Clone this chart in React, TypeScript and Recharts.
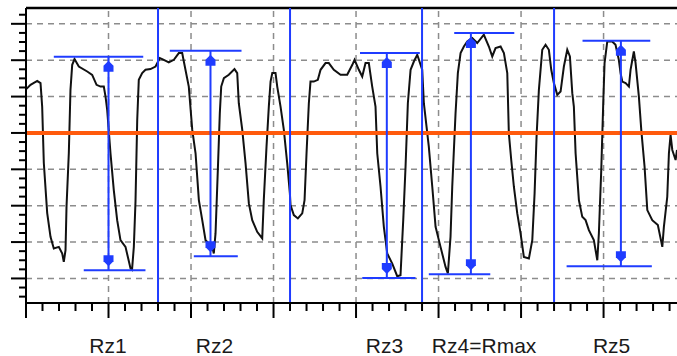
import { ComposedChart, Line, XAxis, YAxis, ReferenceLine, ReferenceDot } from "recharts";

// profile trace (x in grid units, y in grid units around the mean line)
const profX = [
  0.006, 0.055, 0.136, 0.176, 0.196, 0.216, 0.257, 0.297, 0.337, 0.398, 0.439, 0.458, 0.479, 0.491, 0.519, 0.539,
  0.56, 0.588, 0.64, 0.742, 0.802, 0.855, 0.903, 0.943, 0.964, 0.984, 1.024, 1.064, 1.105, 1.145, 1.206, 1.267,
  1.285, 1.307, 1.327, 1.348, 1.367, 1.408, 1.448, 1.509, 1.57, 1.622, 1.67, 1.731, 1.792, 1.852, 1.893, 1.913,
  1.973, 2.015, 2.055, 2.095, 2.136, 2.176, 2.257, 2.276, 2.297, 2.325, 2.349, 2.366, 2.398, 2.458, 2.527, 2.56,
  2.579, 2.621, 2.661, 2.701, 2.742, 2.802, 2.863, 2.882, 2.915, 2.943, 2.964, 2.985, 3.024, 3.045, 3.085, 3.125,
  3.166, 3.198, 3.206, 3.246, 3.295, 3.348, 3.376, 3.4, 3.428, 3.448, 3.488, 3.537, 3.57, 3.63, 3.67, 3.731,
  3.812, 3.893, 3.955, 3.982, 4.034, 4.075, 4.115, 4.155, 4.196, 4.236, 4.257, 4.297, 4.337, 4.378, 4.439, 4.499,
  4.539, 4.572, 4.6, 4.628, 4.661, 4.701, 4.742, 4.802, 4.822, 4.882, 4.924, 4.964, 5.024, 5.085, 5.113, 5.145,
  5.166, 5.206, 5.234, 5.267, 5.307, 5.348, 5.408, 5.469, 5.549, 5.61, 5.651, 5.691, 5.752, 5.792, 5.833, 5.852,
  5.881, 5.913, 5.954, 5.994, 6.034, 6.095, 6.136, 6.164, 6.188, 6.216, 6.257, 6.297, 6.337, 6.366, 6.398, 6.439,
  6.479, 6.519, 6.56, 6.592, 6.621, 6.64, 6.661, 6.701, 6.742, 6.782, 6.822, 6.882, 6.924, 6.943, 6.972, 6.996,
  7.012, 7.045, 7.105, 7.145, 7.185, 7.206, 7.227, 7.267, 7.307, 7.327, 7.367, 7.388, 7.428, 7.457, 7.497, 7.53,
  7.59, 7.658, 7.712, 7.731, 7.772, 7.792, 7.812, 7.833, 7.873, 7.89,
];
const profY = [
  1.212, 1.322, 1.433, 1.369, 0.725, -0.826, -2.204, -2.857, -3.176, -3.132, -3.314, -3.545, -3.223, -2.03, -0.551, 1.185,
  1.873, 2.03, 1.826, 1.689, 1.598, 1.322, 1.275, 1.275, 1.0, 0.634, -0.559, -1.57, -2.397, -2.948, -3.132, -3.727,
  -3.76, -3.132, -1.893, 0.358, 1.46, 1.645, 1.736, 1.755, 1.826, 2.058, 2.011, 1.937, 2.011, 2.196, 2.196, 1.964,
  1.275, 0.083, -0.559, -1.846, -2.397, -2.948, -3.132, -3.314, -2.763, -1.019, 0.543, 1.275, 1.507, 1.598, 1.755, 1.645,
  0.818, 0.083, -0.835, -1.937, -2.397, -2.719, -2.901, -1.846, -0.377, 0.725, 1.413, 1.645, 1.645, 1.275, 0.725, 0.083,
  -0.835, -1.661, -1.983, -2.259, -2.35, -2.212, -1.846, -0.559, 0.818, 1.413, 1.413, 1.46, 1.736, 1.92, 1.92, 1.736,
  1.598, 1.598, 1.873, 2.011, 1.736, 1.551, 1.92, 1.92, 1.275, 0.725, -0.559, -1.479, -2.581, -3.314, -3.59, -3.939,
  -3.912, -2.397, -0.928, 0.818, 1.736, 1.964, 2.149, 1.736, 0.818, -0.377, -1.479, -2.581, -3.132, -3.683, -3.865, -2.857,
  -1.479, 0.543, 1.645, 2.196, 2.377, 2.515, 2.609, 2.471, 2.7, 2.377, 2.102, 2.333, 2.377, 2.196, 1.645, -0.008,
  -0.744, -1.479, -2.212, -2.763, -3.408, -3.452, -2.948, -1.661, -0.102, 1.185, 2.287, 2.424, 2.287, 1.736, 1.369, 1.047,
  1.138, 1.826, 2.287, 2.102, 1.094, 0.725, -0.559, -1.846, -2.306, -2.397, -2.672, -2.948, -3.499, -2.763, -1.019, 0.818,
  1.92, 2.515, 2.515, 2.424, 2.011, 1.645, 1.413, 1.369, 1.275, 1.736, 2.24, 1.92, 1.0, 0.083, -0.928, -2.121,
  -2.397, -2.534, -3.132, -2.581, -1.755, -0.559, -0.055, -0.468, -0.744, -0.468,
];

// Rz peak-to-valley markers
const rzNames = ["Rz1", "Rz2", "Rz3", "Rz4=Rmax", "Rz5"];
const rzLabelX = [0.994, 2.285, 4.345, 5.552, 7.097];
const rzX = [1.0, 2.236, 4.373, 5.392, 7.21];
const rzTop = [2.094, 2.259, 2.196, 2.747, 2.534];
const rzBottom = [-3.774, -3.388, -3.986, -3.884, -3.664];
const topCapFrom = [0.337, 1.743, 4.048, 5.19, 6.745];
const topCapTo = [1.421, 2.612, 4.773, 5.918, 7.566];
const bottomCapFrom = [0.7, 2.034, 4.075, 4.882, 6.552];
const bottomCapTo = [1.448, 2.567, 4.721, 5.627, 7.585];

const samplingEdges = [1.6, 3.2, 4.8, 6.4];
const xGrid = [1, 2, 3, 4, 5, 6, 7];
const yGrid = [-4, -3, -2, -1, 1, 2, 3];

const X_MAX = 7.89;
const Y_MIN = -4.675;
const Y_MAX = 3.435;

const xTicks = Array.from({ length: 40 }, (_, i) => +(i * 0.2).toFixed(1));
const yTicks = Array.from({ length: 32 }, (_, i) => -4.5 + i * 0.25);

const BLUE = "#1f3cff";
const ORANGE = "#ff5a0d";
const GRID = "#8c8c8c";

const data = profX.map((x, i) => ({ x, y: profY[i] }));

const isMajor = (v: number) => Math.abs(v - Math.round(v)) < 1e-6;

function YTick(props: any) {
  const { x, y, payload } = props;
  const len = isMajor(payload.value) ? 15 : 7;
  return <line x1={x} x2={x - len} y1={y} y2={y} stroke="#000" strokeWidth={2} />;
}

function XTick(props: any) {
  const { x, y, payload } = props;
  const len = isMajor(payload.value) ? 15 : 8;
  return <line x1={x} x2={x} y1={y} y2={y + len} stroke="#000" strokeWidth={2} />;
}

function LabelTick(props: any) {
  const { x, y, payload } = props;
  const idx = rzLabelX.indexOf(payload.value);
  return (
    <text x={x} y={y + 30} textAnchor="middle" fontSize={21} fill="#1a1a1a" fontFamily="'Liberation Sans', Arial, sans-serif">
      {rzNames[idx]}
    </text>
  );
}

function ArrowHead({ cx, cy, up }: { cx: number; cy: number; up: boolean }) {
  const s = up ? 1 : -1;
  const d = `M${cx},${cy + s * 4} L${cx + 5},${cy + s * 9} L${cx + 5},${cy + s * 15} L${cx - 5},${cy + s * 15} L${cx - 5},${cy + s * 9} Z`;
  return <path d={d} fill={BLUE} />;
}

export default function App() {
  return (
    <div style={{ position: "absolute", left: 0, top: 0, background: "#fff" }}>
      <ComposedChart width={677} height={356} data={data} margin={{ top: 8, right: 0, bottom: 0, left: 0 }}>
        <XAxis
          dataKey="x"
          type="number"
          domain={[0, X_MAX]}
          ticks={xTicks}
          interval={0}
          tick={<XTick />}
          tickLine={false}
          tickSize={0}
          tickMargin={0}
          axisLine={{ stroke: "#000", strokeWidth: 2 }}
          height={20}
          allowDataOverflow
        />
        <XAxis
          xAxisId="lab"
          dataKey="x"
          type="number"
          domain={[0, X_MAX]}
          ticks={rzLabelX}
          interval={0}
          tick={<LabelTick />}
          tickLine={false}
          tickSize={0}
          tickMargin={0}
          axisLine={false}
          height={33}
          allowDataOverflow
        />
        <YAxis
          type="number"
          domain={[Y_MIN, Y_MAX]}
          ticks={yTicks}
          interval={0}
          tick={<YTick />}
          tickLine={false}
          tickSize={0}
          tickMargin={0}
          axisLine={{ stroke: "#000", strokeWidth: 2 }}
          width={26}
          allowDataOverflow
        />
        {yGrid.map((v) => (
          <ReferenceLine key={`gy${v}`} y={v} stroke={GRID} strokeWidth={1.5} strokeDasharray="6 5" />
        ))}
        {xGrid.map((v) => (
          <ReferenceLine key={`gx${v}`} x={v} stroke={GRID} strokeWidth={1.5} strokeDasharray="6 5" />
        ))}
        <ReferenceLine y={Y_MAX} stroke="#000" strokeWidth={2.5} />
        <Line dataKey="y" type="linear" stroke="#111" strokeWidth={2} dot={false} isAnimationActive={false} />
        <ReferenceLine y={0} stroke={ORANGE} strokeWidth={4} />
        {samplingEdges.map((v) => (
          <ReferenceLine key={`se${v}`} x={v} stroke={BLUE} strokeWidth={2} />
        ))}
        {rzX.map((x, i) => (
          <ReferenceLine
            key={`ar${i}`}
            segment={[
              { x, y: rzTop[i] },
              { x, y: rzBottom[i] },
            ]}
            stroke={BLUE}
            strokeWidth={2}
          />
        ))}
        {rzX.map((_, i) => (
          <ReferenceLine
            key={`tc${i}`}
            segment={[
              { x: topCapFrom[i], y: rzTop[i] },
              { x: topCapTo[i], y: rzTop[i] },
            ]}
            stroke={BLUE}
            strokeWidth={2}
          />
        ))}
        {rzX.map((_, i) => (
          <ReferenceLine
            key={`bc${i}`}
            segment={[
              { x: bottomCapFrom[i], y: rzBottom[i] },
              { x: bottomCapTo[i], y: rzBottom[i] },
            ]}
            stroke={BLUE}
            strokeWidth={2}
          />
        ))}
        {rzX.map((x, i) => (
          <ReferenceDot
            key={`ht${i}`}
            x={x}
            y={rzTop[i]}
            r={5}
            shape={(p: any) => <ArrowHead cx={p.cx} cy={p.cy} up />}
          />
        ))}
        {rzX.map((x, i) => (
          <ReferenceDot
            key={`hb${i}`}
            x={x}
            y={rzBottom[i]}
            r={5}
            shape={(p: any) => <ArrowHead cx={p.cx} cy={p.cy} up={false} />}
          />
        ))}
      </ComposedChart>
    </div>
  );
}
